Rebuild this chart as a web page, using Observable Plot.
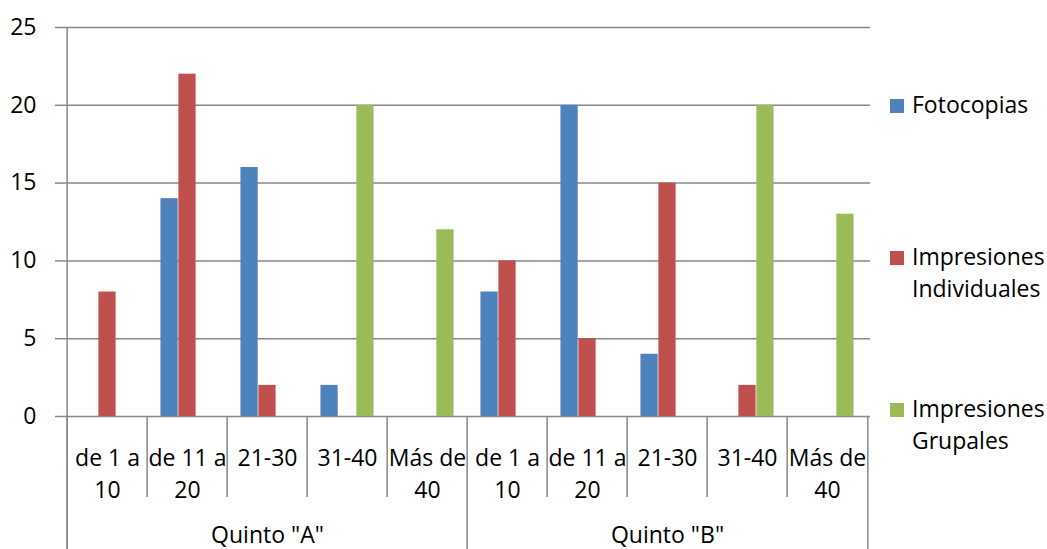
<!DOCTYPE html>
<html>
<head>
<meta charset="utf-8">
<script src="https://cdn.jsdelivr.net/npm/d3@7"></script>
<script src="https://cdn.jsdelivr.net/npm/@observablehq/plot@0.6"></script>
<style>
  body { margin: 0; background: #fff; font-family: "Open Sans", sans-serif; }
  #wrap { position: relative; width: 1047px; height: 549px; overflow: hidden; }
  #wrap svg { position: absolute; left: 0; top: 0; }
  .legend-item { position: absolute; left: 890px; font-size: 23px; line-height: 32px; color: #000; }
  .legend-item .sw { position: absolute; left: 0; width: 14px; height: 14px; }
  .legend-item .lb { position: absolute; left: 22px; white-space: nowrap; }
</style>
</head>
<body>
<div id="wrap"></div>
<script>
// Classes and size ranges on the two-level category axis
const groups = ['Quinto "A"', 'Quinto "B"'];
const ranges = ["de 1 a\n10", "de 11 a\n20", "21-30", "31-40", "Más de\n40"];

// Series
const seriesNames = ["Fotocopias", "Impresiones\nIndividuales", "Impresiones\nGrupales"];
const seriesColors = ["#4F81BD", "#C0504D", "#9BBB59"];
const fotocopias   = [0, 14, 16, 2, 0,   8, 20, 4, 0, 0];
const individuales = [8, 22, 2, 0, 0,   10, 5, 15, 2, 0];
const grupales     = [0, 0, 0, 20, 12,  0, 0, 0, 20, 13];
const seriesValues = [fotocopias, individuales, grupales];

const yTicks = [0, 5, 10, 15, 20, 25];

// Layout
const width = 880, height = 549;
const marginLeft = 63, marginRight = 10, marginTop = 27, marginBottom = 133;
const band = (width - marginLeft - marginRight) / (groups.length * ranges.length);
const barW = band / 4.5;              // gap width 150% of a bar
const gapHalf = (band - 3 * barW) / 2;
const yMax = 25;
const unitsPerPx = yMax / (height - marginTop - marginBottom);
const yBottom = -marginBottom * unitsPerPx;   // bottom edge of the chart
const ySep = -81 * unitsPerPx;                // end of the inner separators
const lineColor = "#888888";
const fs = 23;

// Category table
const cats = [];
groups.forEach((g, gi) => ranges.forEach((r, ri) => {
  cats.push({key: g + "|" + ri, group: g, label: r, index: gi * ranges.length + ri, first: ri === 0});
}));
const keys = cats.map(d => d.key);

const rows = [];
seriesValues.forEach((vals, s) => vals.forEach((v, i) => rows.push({key: keys[i], series: s, value: v})));

const groupLabels = groups.map((g, gi) => ({key: keys[gi * ranges.length + 2], text: g}));

const barMarks = seriesValues.map((_, s) => Plot.barY(rows.filter(d => d.series === s && d.value > 0), {
  x: "key", y: "value", fill: seriesColors[s],
  insetLeft: gapHalf + s * barW,
  insetRight: band - gapHalf - (s + 1) * barW
}));

const chart = Plot.plot({
  width, height, marginLeft, marginRight, marginTop, marginBottom,
  style: {fontFamily: "'Open Sans', sans-serif", background: "transparent"},
  x: {type: "band", domain: keys, padding: 0, axis: null},
  y: {domain: [0, yMax], axis: null},
  marks: [
    Plot.gridY(yTicks, {stroke: lineColor, strokeOpacity: 1, strokeWidth: 1.5}),
    Plot.axisY(yTicks, {label: null, tickSize: 8, tickPadding: 19, fontSize: fs, stroke: lineColor, strokeWidth: 1.5, fill: "#000", tickFormat: d => String(d)}),
    ...barMarks,
    // vertical axis line
    Plot.ruleX([keys[0]], {dx: -band / 2, y1: yMax, y2: yBottom, stroke: lineColor, strokeWidth: 1.5}),
    // class separators
    Plot.ruleX(cats.filter(d => d.first), {x: "key", dx: -band / 2, y1: 0, y2: yBottom, stroke: lineColor, strokeWidth: 1.5}),
    Plot.ruleX([keys[keys.length - 1]], {dx: band / 2, y1: 0, y2: yBottom, stroke: lineColor, strokeWidth: 1.5}),
    // range separators
    Plot.ruleX(cats.filter(d => !d.first), {x: "key", dx: -band / 2, y1: 0, y2: ySep, stroke: lineColor, strokeWidth: 1.5}),
    // range labels
    Plot.text(cats, {x: "key", y: 0, text: "label", lineAnchor: "top", dy: 27, lineHeight: 32 / fs, fontSize: fs, fill: "#000"}),
    // class labels
    Plot.text(groupLabels, {x: "key", y: 0, text: "text", lineAnchor: "top", dy: 110, fontSize: fs, fill: "#000"})
  ]
});

const wrap = document.getElementById("wrap");
wrap.appendChild(chart);

// Legend
const legendTops = [88, 240, 392];
seriesNames.forEach((name, i) => {
  const item = document.createElement("div");
  item.className = "legend-item";
  item.style.top = legendTops[i] + "px";
  const sw = document.createElement("div");
  sw.className = "sw";
  sw.style.background = seriesColors[i];
  sw.style.top = "11px";
  const lb = document.createElement("div");
  lb.className = "lb";
  lb.innerHTML = name.split("\n").join("<br>");
  item.appendChild(sw);
  item.appendChild(lb);
  wrap.appendChild(item);
});
</script>
</body>
</html>
